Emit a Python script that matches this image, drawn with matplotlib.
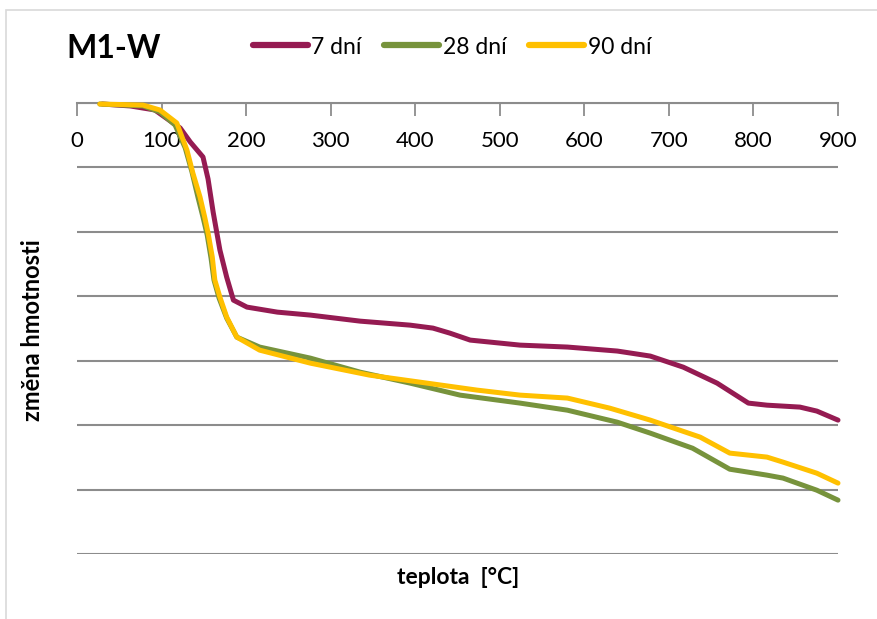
import numpy as np
import matplotlib
matplotlib.use('Agg')
import matplotlib.pyplot as plt
from matplotlib.patches import Rectangle

plt.rcParams['font.family'] = ['Lato', 'DejaVu Sans']

# temperature [°C] and mass change (arbitrary units)
t_7 = [30, 63, 92, 122, 134, 149, 155, 161, 169, 177, 185, 201, 237, 276, 335, 394,
       421, 441, 465, 524, 580, 639, 678, 717, 757, 794, 816, 855, 875, 900]
m_7 = [-0.08, -0.23, -0.54, -1.94, -3.03, -4.19, -5.90, -8.46, -11.41, -13.51, -15.30,
       -15.84, -16.23, -16.46, -16.93, -17.24, -17.47, -17.86, -18.40, -18.79, -18.94,
       -19.25, -19.64, -20.50, -21.74, -23.29, -23.45, -23.60, -23.91, -24.61]

t_28 = [27, 78, 98, 116, 128, 136, 143, 149, 154, 158.5, 162, 168, 177, 189, 216, 276,
        335, 394, 453, 524, 580, 639, 678, 728, 772, 816, 835, 875, 900]
m_28 = [-0.08, -0.23, -0.70, -1.71, -3.49, -5.36, -7.30, -8.85, -10.25, -12.03, -13.74,
        -15.14, -16.69, -18.17, -18.94, -19.80, -20.89, -21.74, -22.67, -23.29, -23.84,
        -24.77, -25.62, -26.79, -28.42, -28.88, -29.11, -30.05, -30.82]

t_90 = [27, 78, 98, 118, 130, 137, 145.5, 151, 155, 160, 163, 169, 177, 189, 216, 276,
        346, 414, 473, 524, 580, 630, 678, 737, 772, 816, 835, 875, 900]
m_90 = [-0.08, -0.16, -0.54, -1.55, -3.65, -5.43, -7.30, -8.85, -10.09, -11.96, -13.74,
        -15.06, -16.61, -18.17, -19.18, -20.19, -21.12, -21.74, -22.28, -22.67, -22.90,
        -23.68, -24.61, -25.93, -27.17, -27.48, -27.87, -28.73, -29.50]

labels = ['7 dní', '28 dní', '90 dní']
colors = ['#951B52', '#77933C', '#FFC000']

fig = plt.figure(figsize=(8.78, 6.19), dpi=100)
ax = fig.add_axes([77/878, 1-554/619, (838-77)/878, (554-103)/619])

for t, m, lab, c in zip([t_7, t_28, t_90], [m_7, m_28, m_90], labels, colors):
    ax.plot(t, m, c=c, linewidth=3.6, label=lab, solid_capstyle='round',
            solid_joinstyle='round', clip_on=False, zorder=3)

ax.set_xlim(0, 900)
ax.set_ylim(-35, 0)
ax.set_xticks(np.arange(0, 901, 100))
ax.set_yticks(np.arange(-35, 1, 5))
ax.set_yticklabels([])
ax.tick_params(axis='y', length=0)
ax.tick_params(axis='x', direction='out', length=9, width=1.3, color='#8C8C8C',
               labelsize=16, pad=11)
ax.grid(axis='y', color='#8C8C8C', linewidth=1.5)
ax.set_axisbelow(True)

for s in ['top', 'left', 'right']:
    ax.spines[s].set_visible(False)
ax.spines['bottom'].set_position(('data', 0))
ax.spines['bottom'].set_color('#8C8C8C')
ax.spines['bottom'].set_linewidth(1.5)

fig.text(33/878, 1-330/619, 'změna hmotnosti', fontsize=17, fontweight='bold',
         rotation=90, ha='center', va='center')
fig.text(458/878, 1-577/619, 'teplota  [°C]', fontsize=16.5, fontweight='bold',
         ha='center', va='center')

fig.text(66/878, 1-49/619, 'M1-W', fontsize=23, fontweight='bold', ha='left', va='center')

leg = fig.legend(loc='center', bbox_to_anchor=(452/878, 1-47/619), ncol=3, frameon=False,
                 fontsize=16.5, handlelength=2.4, handletextpad=0.15, columnspacing=1.0)
for h in leg.get_lines():
    h.set_linewidth(4.5)

fig.patches.append(Rectangle((6/878, -0.1), 1.2, 1.1-10/619, transform=fig.transFigure,
                             fill=False, edgecolor='#D9D9D9', linewidth=1.2))

plt.savefig('out.png', dpi=100)
